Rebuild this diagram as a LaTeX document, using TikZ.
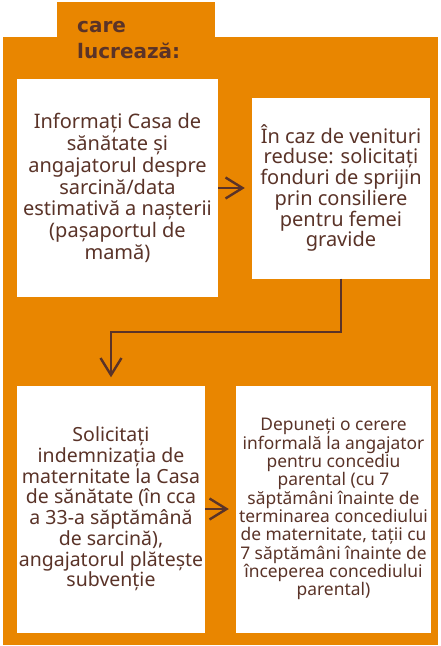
\documentclass[tikz,border=0pt]{standalone}
\usepackage{fontspec}
\setmainfont{Noto Sans}
\newfontfamily\titlefont{DejaVu Sans}
\usetikzlibrary{arrows.meta}
\definecolor{orangebg}{HTML}{E98600}
\definecolor{brownink}{HTML}{5A3328}

\begin{document}
\begin{tikzpicture}[x=1pt,y=-1pt,
  stepbox/.style={fill=white,inner sep=0pt,align=center,text=brownink,
    font=\fontsize{20}{21.7}\selectfont},
  flow/.style={draw=brownink,line width=2.4pt,
    -{Straight Barb[length=17pt,width=21pt]}}]

  \useasboundingbox (0,0) rectangle (440,646);

  % background
  \fill[orangebg] (57,2) rectangle (215,37);
  \fill[orangebg] (3,37) rectangle (438,645);
  \node[anchor=base west,inner sep=0pt,align=left,text=brownink,
    font=\titlefont\bfseries\fontsize{20}{26}\selectfont] (titlu) at (77,58) {care\\lucrează:};

  % boxes
  \node[stepbox,minimum width=201,minimum height=218] (inform) at (117.5,188)
    {Informați Casa de\\sănătate și\\angajatorul despre\\sarcină/data\\estimativă a nașterii\\(pașaportul de\\mamă)};
  \node[stepbox,minimum width=178,minimum height=181,
    font=\fontsize{20}{20.7}\selectfont] (fonduri) at (341,188)
    {În caz de venituri\\reduse: solicitați\\fonduri de sprijin\\prin consiliere\\pentru femei\\gravide};
  \node[stepbox,minimum width=188,minimum height=247,
    font=\fontsize{19.5}{20.7}\selectfont] (indemn) at (111,509)
    {Solicitați\\indemnizația de\\maternitate la Casa\\de sănătate (în cca\\a 33-a săptămână\\de sarcină),\\angajatorul plătește\\subvenție};
  \node[stepbox,minimum width=195,minimum height=247,
    font=\fontsize{17.4}{18.3}\selectfont] (cerere) at (333.5,509)
    {Depuneți o cerere\\informală la angajator\\pentru concediu\\parental (cu 7\\săptămâni înainte de\\terminarea concediului\\de maternitate, tații cu\\7 săptămâni înainte de\\începerea concediului\\parental)};

  % arrows
  \draw[flow,shorten >=7pt] (inform.east) -- (fonduri.west);
  \draw[flow,shorten >=8pt] (fonduri.south) -- ++(0,53) -| (indemn.north);
  \draw[flow,shorten >=7pt] (indemn.east) -- (cerere.west);

\end{tikzpicture}
\end{document}
